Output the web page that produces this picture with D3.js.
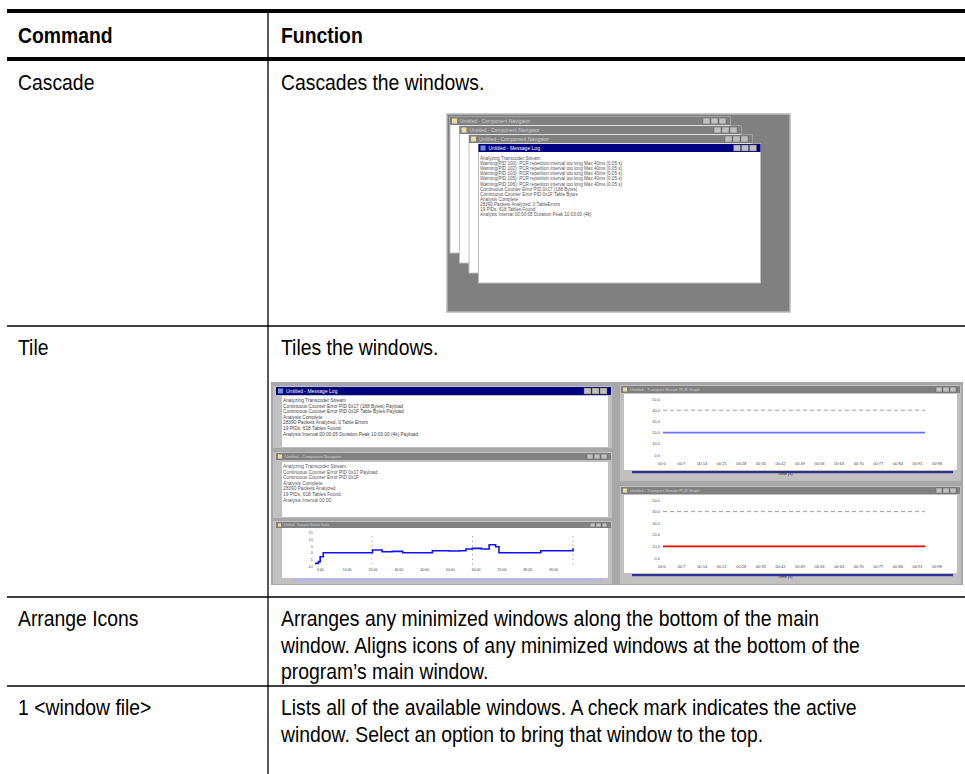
<!DOCTYPE html>
<html>
<head>
<meta charset="utf-8">
<script src="https://cdn.jsdelivr.net/npm/d3@7/dist/d3.min.js"></script>
<style>
  html, body { margin: 0; padding: 0; background: #fff; }
  svg { display: block; }
  .cell { font-family: "Liberation Sans", Arial, sans-serif; font-size: 22px; fill: #000; }
  .head { font-weight: bold; }
  .tiny { font-family: "Liberation Sans", Arial, sans-serif; }
</style>
</head>
<body>
<script>
// ---------------- data ----------------
const headers = ["Command", "Function"];
const commands = ["Cascade", "Tile", "Arrange Icons", "1 <window file>"];
const functionLines = [
  ["Cascades the windows."],
  ["Tiles the windows."],
  ["Arranges any minimized windows along the bottom of the main",
   "window. Aligns icons of any minimized windows at the bottom of the",
   "program\u2019s main window."],
  ["Lists all of the available windows. A check mark indicates the active",
   "window. Select an option to bring that window to the top."]
];

// screenshot contents (blurry window text in the embedded pictures)
const cascadeTitles = ["Untitled - Component Navigator", "Untitled - Component Navigator",
                       "Untitled - Component Navigator", "Untitled - Message Log"];
const logLines = [
  "Analyzing Transcoder Stream",
  "Warning(PID 100): PCR repetition interval too long Max 40ms (0.05 s)",
  "Warning(PID 102): PCR repetition interval too long Max 40ms (0.05 s)",
  "Warning(PID 103): PCR repetition interval too long Max 40ms (0.05 s)",
  "Warning(PID 105): PCR repetition interval too long Max 40ms (0.05 s)",
  "Warning(PID 106): PCR repetition interval too long Max 40ms (0.05 s)",
  "Continuous Counter Error PID 0x17 (188 Bytes)",
  "Continuous Counter Error PID 0x1F Table Bytes",
  "Analysis Complete",
  "28390 Packets Analyzed, 0 TableErrors",
  "19 PIDs, 618 Tables Found",
  "Analysis Interval 00:00:05 Duration Peak 10:03:00 (4k)"
];
const tileLogA = [
  "Analyzing Transcoder Stream",
  "Continuous Counter Error PID 0x17 (188 Bytes) Payload",
  "Continuous Counter Error PID 0x1F Table Bytes Payload",
  "Analysis Complete",
  "28390 Packets Analyzed, 0 Table Errors",
  "19 PIDs, 618 Tables Found",
  "Analysis Interval 00:00:05 Duration Peak 10:03:00 (4k) Payload"
];
const tileLogB = [
  "Analyzing Transcoder Stream",
  "Continuous Counter Error PID 0x17 Payload",
  "Continuous Counter Error PID 0x1F",
  "Analysis Complete",
  "28390 Packets Analyzed",
  "19 PIDs, 618 Tables Found",
  "Analysis Interval 00:00"
];
// blue trace in the lower-left tiled window (time, value)
const traceTime  = [0, 1.3, 2, 3.2, 7, 12, 17, 21, 22.3, 26, 30, 34, 39, 43, 45.5, 52, 56, 58.5, 61, 64.5, 67.5, 70, 71.3, 76, 81, 85, 87.5, 94, 99, 100];
const traceValue = [-8, -6.75, -3, 0, 0, 0, 0, 0, 2, 0.75, 1, 0, 0, 0, 1.5, 1.25, 1.5, 2.75, 3.25, 2.75, 6, 4.5, 0, 0, 0, 0, 1.5, 1.5, 1.5, 3.25];
const tileYTicks = [-10, -5, 0, 5, 10, 15];
const tileXTicks = [0, 39, 78];
const tileXLabels = [0, 10, 20, 30, 40, 50, 60, 70, 80, 90];
// flat traces in the right-hand tiled windows
const flatTime = [0, 100];
const blueFlat = [2, 2];
const redFlat = [1, 1];
const flatYTicks = [0, 1, 2, 3, 4, 5];
const flatXTicks = [0, 7, 14, 21, 28, 35, 42, 49, 56, 63, 70, 77, 84, 91, 98];

// ---------------- layout ----------------
const W = 965, H = 774;
const svg = d3.select("body").append("svg").attr("width", W).attr("height", H);

const colX = 268;          // vertical divider
const leftText = 18, rightText = 281;
const rowTops = [61, 326, 597, 686];
const lineGap = 26.5;
const squeeze = 0.88;      // condensed type

function cellText(sel, x, y, txt, cls) {
  sel.append("text").attr("class", cls)
     .attr("transform", `translate(${x},${y}) scale(${squeeze},1)`).text(txt);
}

// rules
svg.append("rect").attr("x", 7).attr("y", 9).attr("width", W - 7).attr("height", 4).attr("fill", "#000");
svg.append("rect").attr("x", 7).attr("y", 57).attr("width", W - 7).attr("height", 4).attr("fill", "#000");
svg.append("line").attr("x1", colX).attr("x2", colX).attr("y1", 13).attr("y2", H)
   .attr("stroke", "#000").attr("stroke-width", 1.3);
svg.selectAll("line.rowrule").data(rowTops.slice(1)).join("line").attr("class", "rowrule")
   .attr("x1", 7).attr("x2", W).attr("y1", d => d).attr("y2", d => d)
   .attr("stroke", "#000").attr("stroke-width", 1.3);

// header
headers.forEach((h, i) => cellText(svg, i === 0 ? leftText : rightText, 43, h, "cell head"));

// rows
commands.forEach((c, i) => {
  const base = rowTops[i] + 29;
  cellText(svg, leftText, base, c, "cell");
  functionLines[i].forEach((t, j) => cellText(svg, rightText, base + j * lineGap, t, "cell"));
});

// ---------------- helpers for window pictures ----------------
function buttons(g, xRight, y, h) {
  const bw = h - 1;
  [0, 1, 2].forEach(k => {
    g.append("rect").attr("x", xRight - 3 - (3 - k) * (bw + 1)).attr("y", y + 1)
     .attr("width", bw).attr("height", h - 2).attr("fill", "#c0c0c0").attr("stroke", "#606060").attr("stroke-width", 0.5);
  });
}
function titleBar(g, x, y, w, h, active, title) {
  g.append("rect").attr("x", x).attr("y", y).attr("width", w).attr("height", h)
   .attr("fill", active ? "#000080" : "#808080");
  g.append("rect").attr("x", x + 2).attr("y", y + 1.5).attr("width", h - 3).attr("height", h - 3).attr("fill", active ? "#6f8fd8" : "#e8e0a0");
  g.append("text").attr("class", "tiny").attr("x", x + h + 2).attr("y", y + h - 2)
   .attr("font-size", h - 3).attr("fill", active ? "#fff" : "#d0d0d0").text(title);
  buttons(g, x + w, y, h);
}
function textLines(g, lines, x, y0, step, size, fill) {
  g.append("g").selectAll("text").data(lines).join("text").attr("class", "tiny")
   .attr("x", x).attr("y", (d, i) => y0 + i * step).attr("font-size", size).attr("fill", fill).text(d => d);
}

// ---------------- Cascade picture ----------------
{
  const g = svg.append("g");
  const px = 447, py = 114, pw = 343, ph = 198;
  g.append("rect").attr("x", px).attr("y", py).attr("width", pw).attr("height", ph)
   .attr("fill", "#808080").attr("stroke", "#b8b8b8").attr("stroke-width", 1.5);
  [0, 1, 2, 3].forEach(k => {
    const x = 450 + k * 9.5, y = 117 + k * 9, h = 136 + k;
    const ww = k === 3 ? 282 : 280 + k * 1.5;
    g.append("rect").attr("x", x).attr("y", y).attr("width", ww).attr("height", h)
     .attr("fill", "#ffffff").attr("stroke", "#c0c0c0").attr("stroke-width", 1);
    titleBar(g, x, y, ww, 8, k === 3, cascadeTitles[k]);
  });
  textLines(g, logLines, 480, 160, 5.1, 4.6, "#555");
}

// ---------------- Tile picture ----------------
{
  const g = svg.append("g");
  g.append("rect").attr("x", 271).attr("y", 382).attr("width", 692).attr("height", 203).attr("fill", "#a8a8a8");

  const lx = 273, lw = 339;
  // window A (active)
  g.append("rect").attr("x", lx).attr("y", 386).attr("width", lw).attr("height", 62).attr("fill", "#c0c0c0");
  g.append("rect").attr("x", lx + 9).attr("y", 396).attr("width", lw - 13).attr("height", 51).attr("fill", "#fff");
  titleBar(g, lx + 3, 387, lw - 4, 8, true, "Untitled - Message Log");
  textLines(g, tileLogA, lx + 10, 402, 5.6, 4.8, "#444");
  // window B
  g.append("rect").attr("x", lx).attr("y", 452).attr("width", lw).attr("height", 66).attr("fill", "#c0c0c0");
  g.append("rect").attr("x", lx + 9).attr("y", 462).attr("width", lw - 13).attr("height", 55).attr("fill", "#fff");
  titleBar(g, lx + 3, 453, lw - 4, 7, false, "Untitled - Component Navigator");
  textLines(g, tileLogB, lx + 10, 468, 5.6, 4.8, "#555");
  // window C (chart)
  g.append("rect").attr("x", lx).attr("y", 521).attr("width", lw).attr("height", 63).attr("fill", "#c0c0c0");
  g.append("rect").attr("x", lx + 9).attr("y", 528).attr("width", lw - 13).attr("height", 50).attr("fill", "#fff");
  titleBar(g, lx + 3, 522, lw - 4, 6, false, "Untitled - Transport Stream Graph");
  g.append("rect").attr("x", lx + 20).attr("y", 578).attr("width", lw - 30).attr("height", 3).attr("fill", "#b8b8e8");

  const xs = d3.scaleLinear().domain([0, 100]).range([315, 573]);
  const ys = d3.scaleLinear().domain([-10, 15]).range([566, 532.7]);
  g.append("g").selectAll("text").data(tileYTicks).join("text").attr("class", "tiny")
   .attr("x", 313).attr("y", d => ys(d) + 1.5).attr("text-anchor", "end").attr("font-size", 4)
   .attr("fill", "#666").text(d => d);
  const gx = d3.scaleLinear().domain([0, 78]).range([372, 573]);
  g.append("g").selectAll("line").data(tileXTicks).join("line")
   .attr("x1", d => gx(d)).attr("x2", d => gx(d))
   .attr("y1", 536).attr("y2", 566).attr("stroke", "#b0b0b0").attr("stroke-dasharray", "1.5,3");
  g.append("g").selectAll("text").data(tileXLabels).join("text").attr("class", "tiny")
   .attr("x", d => xs(d) + 2).attr("y", 571).attr("font-size", 3.5).attr("fill", "#444").text(d => d + ":00");
  g.append("path").datum(d3.zip(traceTime, traceValue))
   .attr("d", d3.line().x(d => xs(d[0])).y(d => ys(d[1])).curve(d3.curveStepAfter))
   .attr("fill", "none").attr("stroke", "#1010ff").attr("stroke-width", 1.6);

  const rx = 620, rw = 341;
  const xsR = d3.scaleLinear().domain([0, 100]).range([663, 925]);
  const xl = d3.scaleLinear().domain([0, 98]).range([658, 932]);
  function flatWin(y0, h, series, color) {
    g.append("rect").attr("x", rx).attr("y", y0).attr("width", rw).attr("height", h).attr("fill", "#c0c0c0");
    titleBar(g, rx + 1, y0 + 1, rw - 2, 7, false, "Untitled - Transport Stream PCR Graph");
    g.append("rect").attr("x", rx + 4).attr("y", y0 + 9).attr("width", rw - 8).attr("height", h - 20).attr("fill", "#fff");
    const top = y0 + 14, bottom = y0 + h - 26;
    const ysR = d3.scaleLinear().domain([0, 5]).range([bottom, top]);
    g.append("g").selectAll("text").data(flatYTicks).join("text").attr("class", "tiny")
     .attr("x", 660).attr("y", d => ysR(d) + 1.5).attr("text-anchor", "end").attr("font-size", 4)
     .attr("fill", "#555").text(d => (d * 10).toFixed(1));
    g.append("line").attr("x1", 663).attr("x2", 925).attr("y1", ysR(4)).attr("y2", ysR(4))
     .attr("stroke", "#a0a0a0").attr("stroke-dasharray", "4,3");
    g.append("g").selectAll("text").data(flatXTicks).join("text").attr("class", "tiny")
     .attr("x", d => xl(d)).attr("y", bottom + 10).attr("font-size", 4).attr("fill", "#444").text(d => "00:" + d);
    g.append("text").attr("class", "tiny").attr("x", 778).attr("y", bottom + 20).attr("font-size", 4)
     .attr("fill", "#222").text("Time (s)");
    g.append("path").datum(d3.zip(flatTime, series))
     .attr("d", d3.line().x(d => xsR(d[0])).y(d => ysR(d[1])))
     .attr("stroke", color).attr("stroke-width", 1.6).attr("fill", "none");
    g.append("rect").attr("x", rx + 12).attr("y", y0 + h - 10).attr("width", rw - 20).attr("height", 2.2).attr("fill", "#303090");
  }
  flatWin(385, 96, blueFlat, "#7070ff");
  flatWin(486, 98, redFlat, "#ff0000");
}
</script>
</body>
</html>
